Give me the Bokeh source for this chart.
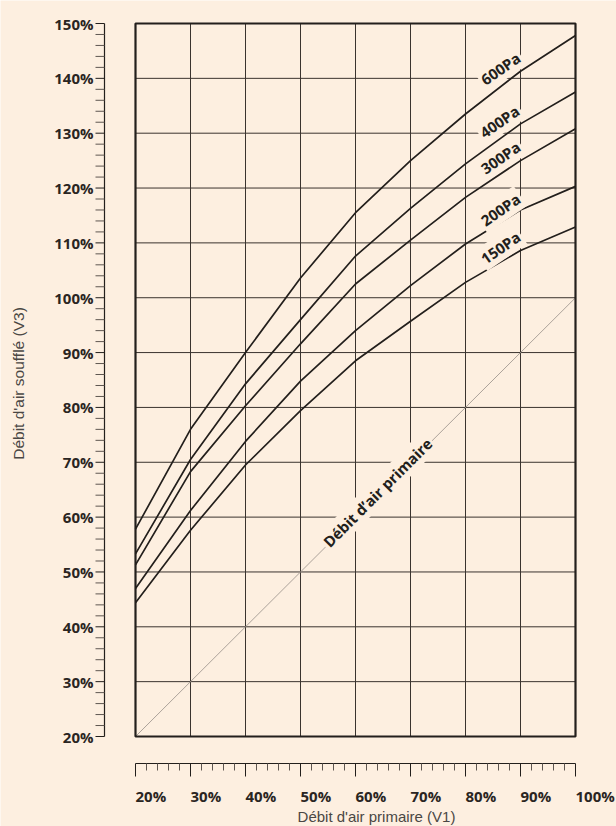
import math
from bokeh.plotting import figure
from bokeh.models import Range1d
from bokeh.core.properties import value
from bokeh.embed import file_html
from bokeh.resources import INLINE

# ---------------- data ----------------
x_pct = [20, 30, 40, 50, 60, 70, 80, 90, 100]
v600 = [57.8, 76.0, 90.0, 103.6, 115.5, 125.0, 133.5, 141.3, 147.8]
v400 = [53.3, 70.5, 84.3, 96.0, 107.6, 116.3, 124.4, 131.7, 137.5]
v300 = [51.3, 68.3, 80.3, 91.6, 102.5, 110.5, 118.3, 125.0, 130.8]
v200 = [47.0, 61.2, 73.8, 84.8, 94.0, 102.2, 109.8, 116.0, 120.3]
v150 = [44.4, 57.6, 69.5, 79.4, 88.5, 95.7, 102.8, 108.6, 112.9]
series_names = ["600Pa", "400Pa", "300Pa", "200Pa", "150Pa"]
primary_line = [20, 100]          # V3 = V1 reference line
primary_label = "Débit d’air primaire"
x_ticks = [20, 30, 40, 50, 60, 70, 80, 90, 100]
x_tick_labels = ["20%", "30%", "40%", "50%", "60%", "70%", "80%", "90%", "100%"]
y_ticks = [20, 30, 40, 50, 60, 70, 80, 90, 100, 110, 120, 130, 140, 150]
y_tick_labels = ["20%", "30%", "40%", "50%", "60%", "70%", "80%", "90%", "100%",
                 "110%", "120%", "130%", "140%", "150%"]
x_grid = [30, 40, 50, 60, 70, 80, 90]
y_grid = [30, 40, 50, 60, 70, 80, 90, 100, 110, 120, 130, 140]
x_title = "Débit d'air primaire (V1)"
y_title = "Débit d'air soufflé (V3)"

# ---------------- layout / style ----------------
BG = "#FDEFE0"
INK = "#231F1C"
GRID = "#3A332E"
TICK2 = "#5E5650"
LABEL = "#2A2522"
TITLE = "#4A4744"
W, H = 616, 826
X20_PX, X100_PX = 135, 575
Y150_PX, Y20_PX = 23, 736
XAXIS_PX = 763      # separate horizontal scale
YAXIS_PX = 104      # separate vertical scale
sx = (X100_PX - X20_PX) / 80.0
sy = (Y20_PX - Y150_PX) / 130.0


def xd(px):
    return 20 + (px - X20_PX) / sx


def yd(py):
    return 20 + (Y20_PX - py) / sy


p = figure(width=W, height=H, x_range=Range1d(xd(0), xd(W)), y_range=Range1d(yd(H), yd(0)),
           output_backend="svg", toolbar_location=None,
           x_axis_location=None, y_axis_location=None,
           min_border_left=0, min_border_right=0, min_border_top=0, min_border_bottom=0)
p.background_fill_color = BG
p.border_fill_color = BG
p.outline_line_color = None
p.grid.visible = False

tick_font = dict(text_font=value("Open Sans"), text_font_style="bold",
                 text_font_size="15px", text_color=LABEL)

# ---- vertical scale (left) ----
xa = xd(YAXIS_PX)
y_minor = [v for v in range(20, 151, 2) if v % 10 != 0]
p.segment(x0=[xa], y0=[20], x1=[xa], y1=[150], line_color=INK, line_width=1.2)
p.segment(x0=[xd(YAXIS_PX - 9)] * len(y_minor), y0=y_minor, x1=[xa] * len(y_minor), y1=y_minor,
          line_color=TICK2, line_width=1)
p.segment(x0=[xd(YAXIS_PX - 9)] * len(y_ticks), y0=y_ticks, x1=[xa] * len(y_ticks), y1=y_ticks,
          line_color=INK, line_width=1)
p.text(x=[xd(YAXIS_PX - 11)] * len(y_ticks), y=y_ticks, text=y_tick_labels,
       text_align="right", text_baseline="middle", **tick_font)
p.text(x=[xd(18)], y=[yd(383)], text=[y_title], angle=math.pi / 2,
       text_font=value("Liberation Sans"), text_font_size="15.5px",
       text_align="center", text_baseline="middle", text_color=TITLE)

# ---- horizontal scale (bottom) ----
ya = yd(XAXIS_PX)
x_minor = [v for v in range(20, 101, 2) if v % 10 != 0]
p.segment(x0=[20], y0=[ya], x1=[100], y1=[ya], line_color=INK, line_width=1.2)
p.segment(x0=x_ticks, y0=[ya] * len(x_ticks), x1=x_ticks, y1=[yd(XAXIS_PX + 13)] * len(x_ticks),
          line_color=INK, line_width=1)
p.segment(x0=x_minor, y0=[ya] * len(x_minor), x1=x_minor, y1=[yd(XAXIS_PX + 7)] * len(x_minor),
          line_color=TICK2, line_width=1)
p.text(x=x_ticks, y=[yd(795)] * len(x_ticks), text=x_tick_labels,
       text_align="left", text_baseline="middle", **tick_font)
p.text(x=[xd(376)], y=[yd(816)], text=[x_title], text_font=value("Liberation Sans"),
       text_font_size="15px", text_align="center", text_baseline="middle",
       text_color=TITLE)

# ---- grid ----
p.segment(x0=x_grid, y0=[20] * len(x_grid), x1=x_grid, y1=[150] * len(x_grid),
          line_color=GRID, line_width=1)
p.segment(x0=[20] * len(y_grid), y0=y_grid, x1=[100] * len(y_grid), y1=y_grid,
          line_color=GRID, line_width=1)

# diagonal primary-air line
p.line(primary_line, primary_line, line_color="#A39A92", line_width=0.9)

# curves
for vals in [v600, v400, v300, v200, v150]:
    p.line(x_pct, vals, line_color=INK, line_width=1.7)

# chart box
p.quad(left=[20], right=[100], bottom=[20], top=[150], fill_color=None,
       line_color=INK, line_width=2.2)

# curve labels
lab_px = [(500, 68), (499, 121), (500, 157), (500, 209), (500, 247)]
p.text(x=[xd(a) for a, b in lab_px], y=[yd(b) for a, b in lab_px], text=series_names,
       angle=0.6, text_font=value("Open Sans"), text_font_style="bold",
       text_font_size="15px", text_align="center", text_baseline="middle",
       text_color=INK, background_fill_color=BG, padding=2)

# diagonal label
p.text(x=[xd(377)], y=[yd(492)], text=[primary_label], angle=0.785,
       text_font=value("Open Sans"), text_font_style="bold", text_font_size="15px",
       text_align="center", text_baseline="middle", text_color=INK,
       background_fill_color=BG, padding=2)

open("out.html", "w").write(file_html(p, INLINE))
